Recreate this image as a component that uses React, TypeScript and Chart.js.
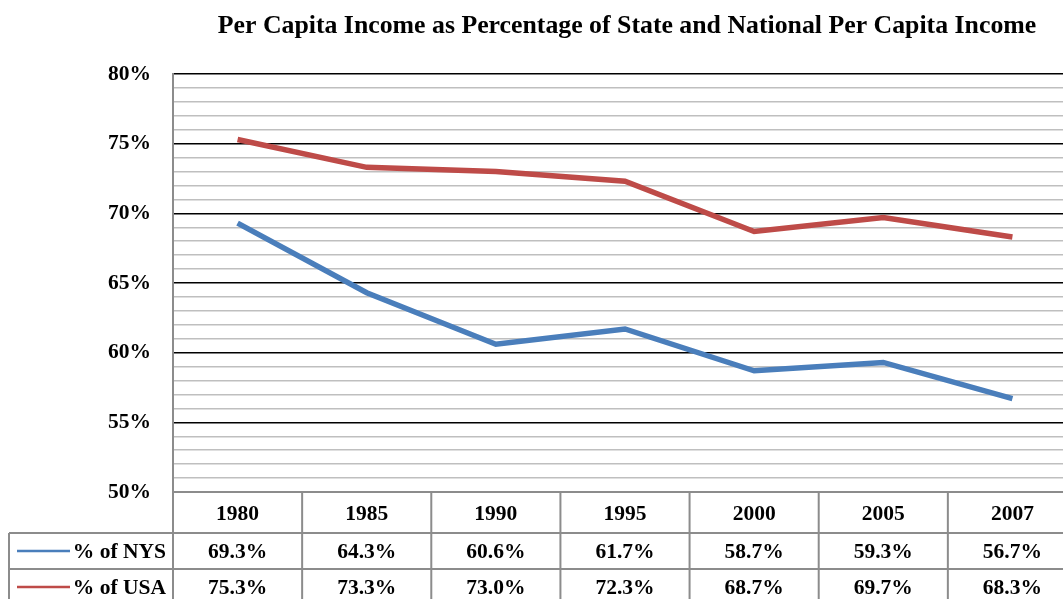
import React, { useEffect, useRef } from "react";
import { Chart, registerables } from "chart.js";

Chart.register(...registerables);

const categories = ["1980", "1985", "1990", "1995", "2000", "2005", "2007"];
const nysValues = [69.3, 64.3, 60.6, 61.7, 58.7, 59.3, 56.7];
const usaValues = [75.3, 73.3, 73.0, 72.3, 68.7, 69.7, 68.3];
const seriesNames = ["% of NYS", "% of USA"];
const titleText = "Per Capita Income as Percentage of State and National Per Capita Income";

const BLUE = "#4a7ebb";
const RED = "#be4b48";
const FONT = "'Liberation Serif', 'Times New Roman', serif";

const tablePlugin = {
  id: "tablePlugin",
  afterDraw(chart: any) {
    const ctx = chart.ctx;
    const area = chart.chartArea;
    const xs = chart.scales.x;
    const n = categories.length;
    const colW = (area.right - area.left) / n;
    const top = area.bottom;
    const r1 = top + 41;
    const r2 = r1 + 36;
    const r3 = r2 + 36;
    const leftX = 9;
    ctx.save();
    // title
    ctx.fillStyle = "#000";
    ctx.font = `bold 25.8px ${FONT}`;
    ctx.textAlign = "center";
    ctx.textBaseline = "middle";
    ctx.fillText(titleText, 627, 26);

    ctx.strokeStyle = "#8c8c8c";
    ctx.lineWidth = 2;
    ctx.beginPath();
    ctx.moveTo(area.left, top);
    ctx.lineTo(area.right + 20, top);
    ctx.moveTo(leftX, r1);
    ctx.lineTo(area.right + 20, r1);
    ctx.moveTo(leftX, r2);
    ctx.lineTo(area.right + 20, r2);
    ctx.moveTo(leftX, r3);
    ctx.lineTo(area.right + 20, r3);
    ctx.moveTo(leftX, r1);
    ctx.lineTo(leftX, r3);
    for (let i = 0; i <= n; i++) {
      const x = area.left + i * colW;
      ctx.moveTo(x, top);
      ctx.lineTo(x, r3);
    }
    ctx.stroke();

    ctx.font = `bold 21.5px ${FONT}`;
    ctx.textAlign = "center";
    ctx.textBaseline = "middle";
    ctx.fillStyle = "#000";
    for (let i = 0; i < n; i++) {
      const cx = xs.getPixelForValue(i);
      ctx.fillText(categories[i], cx, (top + r1) / 2 + 2);
      ctx.fillText(nysValues[i].toFixed(1) + "%", cx, (r1 + r2) / 2 + 1);
      ctx.fillText(usaValues[i].toFixed(1) + "%", cx, (r2 + r3) / 2 + 1);
    }
    // legend keys
    const rows = [
      { y: (r1 + r2) / 2, color: BLUE, name: seriesNames[0] },
      { y: (r2 + r3) / 2, color: RED, name: seriesNames[1] },
    ];
    for (const r of rows) {
      ctx.strokeStyle = r.color;
      ctx.lineWidth = 2.5;
      ctx.beginPath();
      ctx.moveTo(17, r.y);
      ctx.lineTo(70, r.y);
      ctx.stroke();
      ctx.textAlign = "right";
      ctx.fillText(r.name, 166, r.y + 1);
    }
    ctx.restore();
  },
};

export default function App() {
  const ref = useRef<HTMLCanvasElement>(null);
  useEffect(() => {
    if (!ref.current) return;
    const chart = new Chart(ref.current, {
      type: "line",
      data: {
        labels: categories,
        datasets: [
          {
            label: seriesNames[0],
            data: nysValues,
            borderColor: BLUE,
            backgroundColor: BLUE,
            borderWidth: 5.5,
            pointRadius: 0,
            tension: 0,
          },
          {
            label: seriesNames[1],
            data: usaValues,
            borderColor: RED,
            backgroundColor: RED,
            borderWidth: 5.5,
            pointRadius: 0,
            tension: 0,
          },
        ],
      },
      options: {
        responsive: false,
        animation: false,
        layout: { padding: { top: 74, left: 0, right: 13, bottom: 128 } },
        plugins: {
          legend: { display: false },
          title: { display: false },
          tooltip: { enabled: false },
        },
        scales: {
          x: {
            type: "category",
            offset: true,
            display: false,
          },
          y: {
            min: 50,
            max: 80,
            afterFit: (scale: any) => {
              scale.width = 173;
            },
            ticks: {
              stepSize: 1,
              autoSkip: false,
              padding: 22,
              color: "#000",
              font: { family: FONT, size: 21.5, weight: "bold" },
              callback: (v: any) => (Number(v) % 5 === 0 ? `${v}%` : ""),
            },
            grid: {
              drawTicks: false,
              color: (c: any) =>
                c.tick.value === 50 ? "rgba(0,0,0,0)" : c.tick.value % 5 === 0 ? "#000" : "#bfbfbf",
              lineWidth: 1.5,
            },
            border: { display: true, color: "#8c8c8c", width: 2 },
          },
        },
      },
      plugins: [tablePlugin],
    });
    return () => chart.destroy();
  }, []);
  return (
    <div
      style={{
        position: "fixed",
        left: 0,
        top: 0,
        width: 1063,
        height: 599,
        overflow: "hidden",
        background: "#fff",
      }}
    >
      <canvas ref={ref} width={1090} height={620} style={{ display: "block" }} />
    </div>
  );
}
